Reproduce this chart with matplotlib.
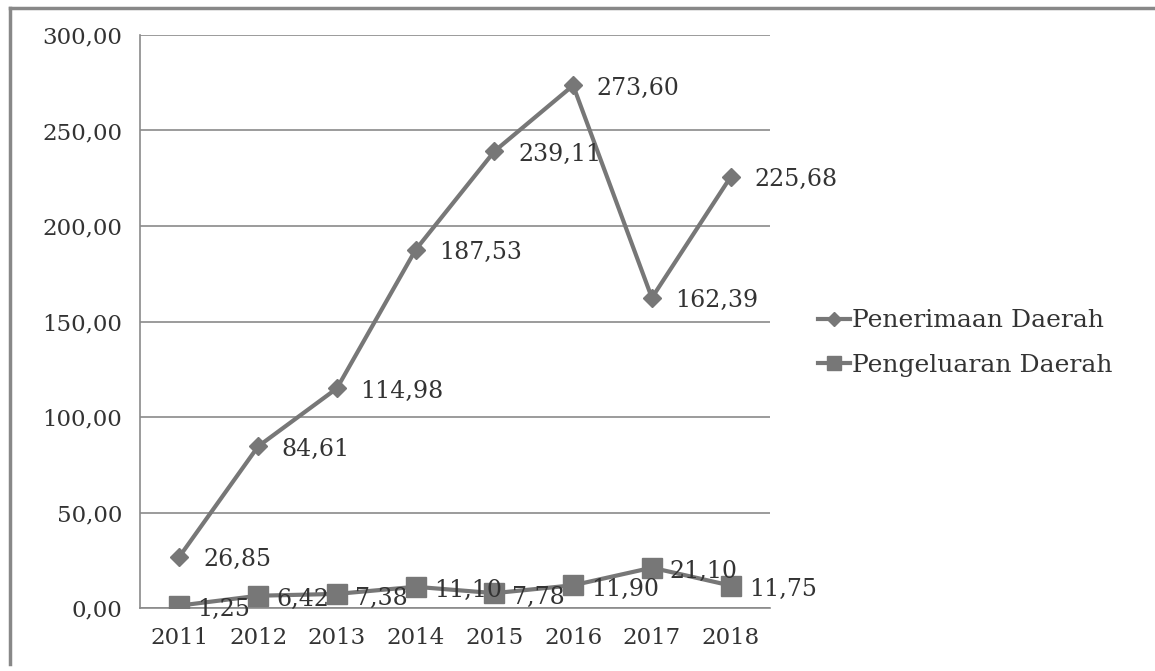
import matplotlib.pyplot as plt
from matplotlib.lines import Line2D

years = ["2011", "2012", "2013", "2014", "2015", "2016", "2017", "2018"]
penerimaan = [26.85, 84.61, 114.98, 187.53, 239.11, 273.60, 162.39, 225.68]
pengeluaran = [1.25, 6.42, 7.38, 11.10, 7.78, 11.90, 21.10, 11.75]
y_ticks = [0, 50, 100, 150, 200, 250, 300]

def fmt(v):
    return f"{v:.2f}".replace(".", ",")

plt.rcParams["font.family"] = ["DejaVu Serif"]
line_col = "#777777"
text_col = "#333333"

fig = plt.figure(figsize=(11.55, 6.71), dpi=100)
ax = fig.add_axes([140 / 1155, 1 - 608 / 671, 630 / 1155, 573 / 671])

x = list(range(len(years)))
ax.plot(x, penerimaan, color=line_col, lw=3, marker="D", ms=9,
        label="Penerimaan Daerah", zorder=3)
ax.plot(x, pengeluaran, color=line_col, lw=3, marker="s", ms=14,
        label="Pengeluaran Daerah", zorder=3)

for xi, v in zip(x, penerimaan):
    ax.annotate(fmt(v), (xi, v), xytext=(17, -2), textcoords="offset points",
                fontsize=17, color=text_col, va="center", ha="left")
for xi, v in zip(x, pengeluaran):
    ax.annotate(fmt(v), (xi, v), xytext=(13, -3), textcoords="offset points",
                fontsize=17, color=text_col, va="center", ha="left")

ax.set_xlim(-0.5, 7.5)
ax.set_ylim(0, 300)
ax.set_xticks(x)
ax.set_xticklabels(years)
ax.set_yticks(y_ticks)
ax.set_yticklabels([fmt(t) for t in y_ticks])
ax.tick_params(length=0, labelsize=16.5, labelcolor=text_col)
ax.tick_params(axis="y", pad=13)
ax.tick_params(axis="x", pad=14)
ax.yaxis.grid(True, color="#8a8a8a", lw=1.2)
ax.set_axisbelow(True)
for side in ["top", "right"]:
    ax.spines[side].set_visible(False)
ax.spines["left"].set_color("#8a8a8a")
ax.spines["bottom"].set_color("#8a8a8a")
ax.spines["left"].set_linewidth(1.2)
ax.spines["bottom"].set_linewidth(1.2)

handles = [
    Line2D([], [], color=line_col, lw=3, marker="D", ms=7),
    Line2D([], [], color=line_col, lw=3, marker="s", ms=10),
]
fig.legend(handles, ["Penerimaan Daerah", "Pengeluaran Daerah"],
           loc="center left", bbox_to_anchor=(795 / 1155, 1 - 343 / 671),
           frameon=False, fontsize=18, handlelength=1.3, handletextpad=0.1,
           labelspacing=0.85, labelcolor=text_col)

# outer frame
fig.add_artist(Line2D([10 / 1155, 10 / 1155], [0.01, 1 - 8 / 671],
                      transform=fig.transFigure, color="#888888", lw=2.5))
fig.add_artist(Line2D([10 / 1155, 1.0], [1 - 8 / 671, 1 - 8 / 671],
                      transform=fig.transFigure, color="#888888", lw=2.5))

fig.savefig("out.png", dpi=100)
